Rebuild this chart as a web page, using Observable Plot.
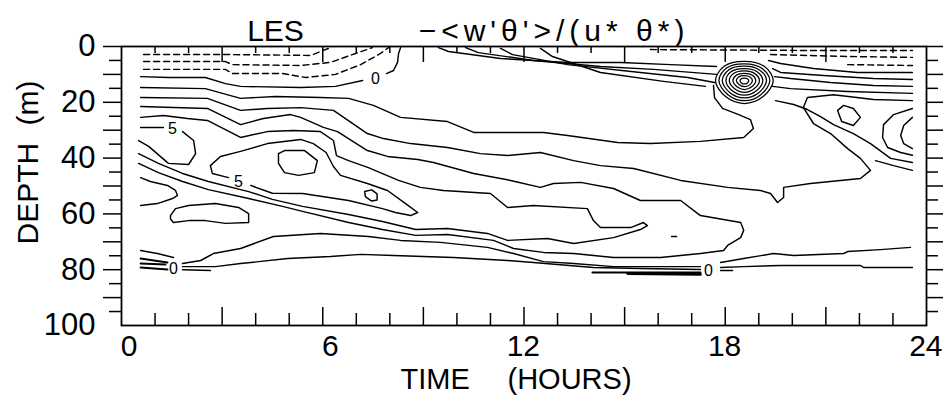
<!DOCTYPE html>
<html><head><meta charset="utf-8">
<script src="https://cdn.jsdelivr.net/npm/d3@7"></script>
<script src="https://cdn.jsdelivr.net/npm/@observablehq/plot@0.6"></script>
<style>body{margin:0;background:#fff}</style>
</head><body><div id="chart"></div>
<script>
// ---- tick values & labels ----
const hourLabels = [0, 6, 12, 18, 24];
const hourMajorTicks = [3, 6, 9, 12, 15, 18, 21];
const hourMinorTicks = [1, 2, 4, 5, 7, 8, 10, 11, 13, 14, 16, 17, 19, 20, 22, 23];
const depthLabels = [0, 20, 40, 60, 80, 100];
const depthMajorTicks = [0, 10, 20, 30, 40, 50, 60, 70, 80, 90];
const depthMinorTicks = [5, 15, 25, 35, 45, 55, 65, 75, 85, 95];
const titleLeft = "LES";
const titleRight = "\u2212<w'\u03B8'>/(u* \u03B8*)";
const xTitle = ["TIME", "(HOURS)"];
const yTitle = ["DEPTH", "(m)"];

// ---- contour labels ----
const labelText = ["0", "5", "5", "0", "0"];
const labelTime = [7.57, 1.52, 3.49, 1.55, 17.50];
const labelDepth = [11.5, 29.4, 48.4, 79.6, 80.6];

// ---- negative (dashed) contours: [time h, depth m] ----
const D1 = [[0.66,2.9],[3.25,2.9],[5.64,3.2],[5.93,1.8],[6.23,0.4]];
const D2 = [[0.66,5.4],[3.10,5.4],[3.31,6.5],[5.34,6.8],[6.23,5.7],[6.98,2.5],[7.48,0.4]];
const D3 = [[0.66,8.2],[3.10,8.2],[3.31,9.7],[4.80,9.7],[5.49,11.1],[6.38,10.0],[7.13,6.5],[7.72,2.5],[7.96,0.4]];
const DR1 = [[15.77,1.1],[20.24,1.4],[23.58,1.4]];
const DR2 = [[19.35,2.9],[21.74,3.6],[23.58,3.9]];
const DR3 = [[21.65,6.5],[23.58,6.8]];

// ---- solid contours ----
const Z0a = [[0.57,10.8],[1.40,11.1],[2.50,11.1],[3.10,13.3],[3.55,14.3],[5.34,14.7],[6.38,14.3],[7.19,12.2]];
const Z0b = [[7.90,9.7],[8.11,8.6],[8.23,5.7],[8.26,2.5],[8.32,0.4]];
const S1 = [[0.57,14.7],[2.50,15.1],[3.55,18.6],[4.59,17.9],[5.93,18.3],[6.77,18.6],[7.51,21.1],[8.32,25.4],[9.72,26.9],[10.50,30.8],[12.58,30.8],[13.30,31.9],[14.79,34.4],[15.77,34.8],[17.26,34.0],[18.55,32.6],[18.84,29.4],[18.75,26.2],[18.40,24.4],[17.92,22.2],[17.68,18.3],[17.65,14.0]];
const S2 = [[0.57,18.3],[2.56,18.6],[3.55,22.9],[4.35,22.2],[5.34,21.9],[6.32,22.9],[7.33,31.2],[7.81,33.0],[8.62,34.8],[9.72,36.2],[10.70,38.4],[11.51,39.1],[12.49,38.0],[13.48,40.9],[14.28,42.7],[15.27,43.7],[16.67,48.0],[18.07,50.5],[19.05,51.6],[19.35,52.7],[19.56,55.9],[19.74,54.1],[19.74,50.5],[20.54,49.1],[22.03,47.3],[22.33,44.4],[22.03,40.1],[21.65,36.6],[21.14,31.2],[20.63,27.6],[20.33,21.9],[20.45,18.3],[21.23,17.3],[22.42,19.0],[23.58,19.4]];
const S3 = [[0.57,21.5],[2.56,22.2],[3.55,28.0],[4.23,25.8],[5.04,24.4],[5.34,25.4],[6.02,29.0],[6.44,30.5],[7.33,37.3],[7.93,39.4],[8.83,40.5],[9.30,41.6],[10.50,45.5],[11.60,48.0],[12.49,50.5],[12.88,49.1],[13.69,48.7],[14.67,50.9],[15.47,55.2],[16.67,55.2],[17.26,60.6],[18.46,63.1],[18.55,65.9],[18.46,68.5],[18.07,71.3],[17.95,73.1],[17.26,74.2],[16.07,75.6],[14.67,75.6],[13.48,74.2],[12.58,73.8],[11.69,72.4],[11.09,69.5],[9.72,67.4],[8.77,67.7],[7.78,65.6],[6.77,63.1],[5.40,59.1],[4.80,57.3],[3.79,54.5],[2.59,51.3],[1.82,48.4],[1.10,45.2],[0.51,41.9]];
const S4 = [[0.57,25.4],[1.25,24.7],[1.97,25.8],[2.56,26.5],[3.55,32.6],[4.35,30.5],[5.13,30.1],[5.93,30.5],[6.32,33.7],[6.41,39.1],[6.77,40.9],[7.36,43.4],[8.26,48.0],[8.91,50.5],[9.60,51.6],[11.00,52.7],[11.51,57.7],[12.28,57.0],[13.89,58.1],[14.07,62.4],[14.28,64.9],[15.18,64.9],[15.56,63.1],[15.68,64.2],[15.47,65.6],[14.67,68.5],[13.48,70.6],[12.70,68.8],[11.51,69.5],[10.91,67.0],[9.72,65.2],[8.77,65.6],[7.78,62.7],[6.77,60.2],[5.40,57.3],[4.50,54.8],[3.79,52.0],[2.59,48.4],[1.82,45.5],[1.10,41.9],[0.51,38.4]];
const H5a = [[0.57,29.0],[1.25,29.0]];
const H5b = [[1.82,30.5],[2.15,33.7],[2.21,38.4],[2.00,42.3],[1.40,41.9],[0.81,35.8],[0.51,33.7]];
const C5 = [[3.19,47.0],[2.71,45.5],[2.65,42.7],[2.95,39.4],[3.55,37.6],[4.35,34.8],[5.34,33.3],[5.72,34.8],[6.10,38.0],[6.32,43.0],[6.53,46.2],[7.33,49.1],[7.93,51.6],[8.47,56.3],[8.83,59.5],[8.62,60.6],[8.17,59.5],[7.78,58.1],[6.77,55.2],[5.40,52.7],[4.50,52.6],[3.85,49.8]];
const L4 = [[0.57,47.0],[0.86,48.4],[1.37,49.8],[1.61,51.6],[1.67,53.4],[1.52,54.5],[1.07,56.3],[0.57,57.0]];
const BL0 = [[0.57,73.1],[1.07,74.2],[1.55,75.6]];
const B1 = [[0.57,76.0],[1.37,77.4]];
const B2 = [[0.57,77.8],[1.31,78.1]];
const B3 = [[0.57,79.2],[1.37,79.9]];
const L7a = [[1.82,77.8],[2.36,76.7],[2.74,74.2],[3.55,72.4],[4.53,68.1],[5.93,67.0],[7.36,68.1],[8.32,69.5],[9.51,70.2],[10.91,72.0],[11.69,74.2],[12.58,77.1],[13.48,77.8],[14.67,78.9],[17.26,78.9]];
const L7b = [[1.82,78.9],[2.80,78.9],[3.55,77.8],[4.95,76.0],[6.23,75.3],[7.13,74.5],[8.11,74.9],[9.90,75.6],[11.51,76.7],[12.28,77.4],[14.07,79.2],[15.47,79.6],[17.26,79.9]];
const L7c = [[1.82,80.0],[2.65,80.3]];
const L7d = [[14.04,81.0],[17.26,81.0]];
const L7e = [[15.09,81.4],[17.26,81.7]];
const R0a = [[17.86,77.4],[18.55,76.0],[19.44,74.2],[20.04,74.9],[21.53,74.2],[21.65,73.5],[22.63,72.8],[23.52,72.0]];
const R0b = [[17.86,79.2],[18.55,78.9],[19.65,78.5],[22.03,78.5],[22.12,79.2],[23.58,79.2]];
const R0c = [[17.86,80.3],[18.22,80.3]];
const TD = [[16.40,68.1],[16.55,68.1]];
const T1 = [[9.45,0.4],[9.75,1.8],[11.30,4.3],[13.30,5.7],[14.88,5.7],[16.37,6.5],[17.74,7.2]];
const T2 = [[10.26,0.4],[10.64,2.2],[12.28,5.0],[14.28,7.2],[15.86,8.2],[17.74,10.0]];
const T3 = [[11.30,0.7],[11.66,2.9],[13.30,6.5],[15.47,9.3],[16.88,11.1],[17.68,12.9]];
const T4 = [[12.49,0.7],[12.85,3.6],[14.28,9.3],[16.16,12.5],[17.41,14.3]];
const R1 = [[19.29,5.0],[19.65,6.1],[20.63,7.9],[21.94,9.3],[23.58,9.3]];
const R2 = [[19.41,7.9],[19.65,9.3],[20.93,10.4],[22.42,11.5],[23.58,11.8]];
const R3 = [[19.47,10.8],[19.95,11.5],[21.14,12.9],[22.42,14.0],[23.58,14.3]];
const R4 = [[19.41,14.3],[19.95,15.1],[21.65,16.1],[23.58,16.8]];
const R5 = [[19.50,19.4],[20.04,20.8],[20.45,22.6],[20.84,25.1],[21.23,28.0],[21.82,31.2],[22.33,34.8],[22.93,40.1],[23.58,41.6]];
const R6 = [[22.48,40.9],[23.02,42.7],[23.58,44.4]];
const RL1 = [[23.58,25.4],[23.32,28.3],[23.23,31.9],[23.32,34.8],[23.58,36.6]];
const RL2 = [[23.58,22.2],[23.02,24.4],[22.72,28.0],[22.69,32.6],[22.84,36.2],[23.23,38.0],[23.58,39.0]];

// ---- closed contours ----
const E1 = [[4.68,38.4],[4.86,37.3],[5.46,37.3],[5.84,40.9],[5.75,45.2],[5.28,46.2],[4.86,45.2],[4.68,41.9]];
const SL = [[7.25,52.0],[7.46,51.4],[7.62,52.8],[7.62,55.0],[7.46,55.4],[7.27,53.8]];
const LE = [[1.46,60.6],[1.61,58.1],[2.00,57.0],[2.80,56.3],[3.49,57.7],[3.79,59.9],[3.79,63.1],[3.10,63.4],[2.50,62.4],[2.00,62.4],[1.55,63.1],[1.46,61.8]];
const SLR = [[21.35,22.9],[21.53,21.1],[21.82,22.2],[22.03,25.4],[21.82,28.3],[21.47,26.9]];

// ---- concentric rings near 18.5 h ----
const ring1 = [[18.44,12.2],[18.48,11.56],[18.57,11.34],[18.66,11.58],[18.70,12.2],[18.66,13.05],[18.57,13.42],[18.48,13.05]];
const ring2 = [[18.33,12.2],[18.40,10.91],[18.57,10.48],[18.74,10.96],[18.81,12.2],[18.73,13.75],[18.57,14.42],[18.42,13.75]];
const ring3 = [[18.23,12.2],[18.33,10.27],[18.57,9.62],[18.81,10.34],[18.91,12.2],[18.79,14.45],[18.57,15.42],[18.35,14.45]];
const ring4 = [[18.12,12.2],[18.26,9.62],[18.57,8.76],[18.88,9.72],[19.02,12.2],[18.86,15.15],[18.57,16.42],[18.28,15.15]];
const ring5 = [[18.02,12.2],[18.18,8.98],[18.57,7.90],[18.96,9.10],[19.12,12.2],[18.93,15.86],[18.57,17.43],[18.21,15.86]];
const ring6 = [[17.91,12.2],[18.11,8.33],[18.57,7.04],[19.03,8.48],[19.23,12.2],[19.00,16.56],[18.57,18.43],[18.14,16.56]];
const ring7 = [[17.81,12.2],[18.04,7.69],[18.57,6.19],[19.10,7.87],[19.33,12.2],[19.06,17.26],[18.57,19.43],[18.08,17.26]];
const ring8 = [[17.71,12.2],[17.97,7.05],[18.57,5.33],[19.18,7.25],[19.43,12.2],[19.13,17.96],[18.57,20.43],[18.01,17.96]];

const solidContours = [Z0a, Z0b, S1, S2, S3, S4, H5a, H5b, C5, L4, BL0, L7a, L7b, L7c, R0a, R0b, R0c, TD, T1, T2, T3, T4, R1, R2, R3, R4, R5, R6, RL1, RL2];
const heavyContours = [B1, B2, B3, L7d];
const loopContours = [E1, SL, LE, SLR];
const ringContours = [ring1, ring2, ring3, ring4, ring5, ring6, ring7, ring8];
const dashedContours = [D1, D2, D3, DR1, DR2, DR3];

const labels = labelText.map((t, i) => ({text: t, time: labelTime[i], depth: labelDepth[i]}));

const base = {x: d => d[0], y: d => d[1], stroke: "black", strokeWidth: 1.45};
const marks = [];
for (const c of solidContours) marks.push(Plot.line(c, base));
for (const c of heavyContours) marks.push(Plot.line(c, {...base, strokeWidth: 2}));
for (const c of loopContours) marks.push(Plot.line(c, {...base, curve: "linear-closed"}));
for (const c of ringContours) marks.push(Plot.line(c, {...base, strokeWidth: 1.25, curve: "catmull-rom-closed"}));
for (const c of dashedContours) marks.push(Plot.line(c, {...base, strokeDasharray: "6,4"}));
marks.push(Plot.line(L7e, {...base, strokeWidth: 2.8}));
marks.push(Plot.text(labels, {x: "time", y: "depth", text: "text", fontSize: 16, fill: "black"}));

// frame & ticks (frame is 805 x 279)
const tk = {stroke: "black", strokeWidth: 1.5};
marks.push(
  Plot.frame({stroke: "black", strokeWidth: 1.8}),
  Plot.ruleX(hourMajorTicks, {...tk, insetTop: 279 - 18}),
  Plot.ruleX(hourMinorTicks, {...tk, insetTop: 279 - 12}),
  Plot.ruleX(hourMajorTicks, {...tk, insetBottom: 279 - 16}),
  Plot.ruleX(hourMinorTicks, {...tk, insetBottom: 279 - 7}),
  Plot.ruleY(depthMajorTicks, {...tk, insetLeft: -18, insetRight: 805}),
  Plot.ruleY(depthMinorTicks, {...tk, insetLeft: -12, insetRight: 805}),
  Plot.ruleY(depthMajorTicks, {...tk, insetLeft: 805, insetRight: -17}),
  Plot.ruleY(depthMinorTicks, {...tk, insetLeft: 805, insetRight: -12}),
  Plot.text(depthLabels, {y: d => d, frameAnchor: "left", textAnchor: "end", dx: -26, fontSize: 31, fill: "black"}),
  Plot.text(hourLabels, {x: d => d, frameAnchor: "bottom", textAnchor: "end", lineAnchor: "bottom", dx: 16, dy: 30, fontSize: 30, fill: "black"}),
  Plot.text([xTitle[0]], {frameAnchor: "bottom", textAnchor: "start", lineAnchor: "bottom", dx: -123.5, dy: 63, fontSize: 29, fill: "black"}),
  Plot.text([xTitle[1]], {frameAnchor: "bottom", textAnchor: "start", lineAnchor: "bottom", dx: -16.5, dy: 63, fontSize: 29, fill: "black"}),
  Plot.text([yTitle[0]], {frameAnchor: "left", rotate: -90, dx: -93, dy: 58.5, fontSize: 30, fill: "black"}),
  Plot.text([yTitle[1]], {frameAnchor: "left", rotate: -90, dx: -93, dy: -60.5, fontSize: 30, fill: "black"}),
  Plot.text([titleLeft], {frameAnchor: "top", lineAnchor: "bottom", dx: -248.5, dy: -6, fontSize: 30, fill: "black"}),
  Plot.text([titleRight], {frameAnchor: "top", lineAnchor: "bottom", dx: 30, dy: -6, fontSize: 30, fill: "black"})
);

const chart = Plot.plot({
  width: 947, height: 396,
  marginLeft: 121, marginRight: 21, marginTop: 46, marginBottom: 71,
  x: {domain: [0, 24], axis: null},
  y: {domain: [0, 100], reverse: true, axis: null},
  style: {fontFamily: "'Liberation Sans', Arial, sans-serif", background: "white", color: "black", overflow: "visible"},
  marks
});
d3.select(chart).selectAll("text").filter(function() { return this.textContent === titleRight; }).attr("letter-spacing", 5);
document.getElementById("chart").append(chart);
</script></body></html>
